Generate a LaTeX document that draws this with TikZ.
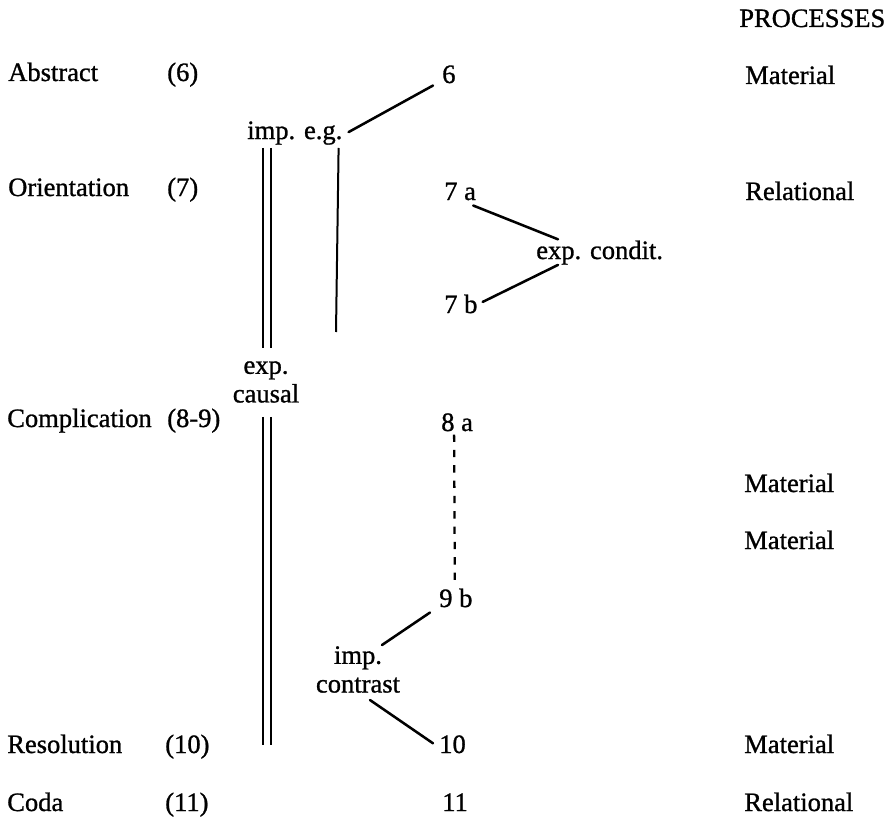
\documentclass[tikz,border=0pt]{standalone}
\usepackage{fontspec}
\setmainfont{Liberation Serif}[RawFeature={embolden=1.0}]
\usetikzlibrary{calc}
\begin{document}
\begin{tikzpicture}[x=0.75pt,y=-0.75pt,
  lbl/.style={inner sep=0pt, anchor=base west, font=\fontsize{19.9pt}{21pt}\selectfont},
  pair/.style={inner sep=0pt, anchor=north, align=center, font=\fontsize{19.9pt}{21.5pt}\selectfont},
  link/.style={line width=1.9pt, line cap=round},
  rule/.style={line width=1.5pt},
  chain/.style={line width=1.7pt, dash pattern=on 5.5pt off 6pt}]
\useasboundingbox (0,0) rectangle (889,817);

% column heading
\node[lbl] (hProc) at (739,27) {PROCESSES};

% stages, clause numbers and process types
\node[lbl] (sAbs) at (8,81) {Abstract};
\node[lbl] (cAbs) at (167,81) {(6)};
\node[lbl] (n6) at (442,83) {6};
\node[lbl] (pAbs) at (745,84) {Material};

\node[lbl] (sOri) at (8,196) {Orientation};
\node[lbl] (cOri) at (167,196) {(7)};
\node[lbl] (n7a) at (444,200) {7 a};
\node[lbl] (pOri) at (745,200) {Relational};
\node[lbl] (n7b) at (444,313) {7 b};

\node[lbl] (sCom) at (7,427) {Complication};
\node[lbl] (cCom) at (167,427) {(8-9)};
\node[lbl] (n8a) at (441,431) {8 a};
\node[lbl] (pComA) at (744,492) {Material};
\node[lbl] (pComB) at (744,549) {Material};
\node[lbl] (n9b) at (439,607) {9 b};

\node[lbl] (sRes) at (7,753) {Resolution};
\node[lbl] (cRes) at (165,753) {(10)};
\node[lbl] (n10) at (439,753) {10};
\node[lbl] (pRes) at (744,753) {Material};

\node[lbl] (sCod) at (7,811) {Coda};
\node[lbl] (cCod) at (165,811) {(11)};
\node[lbl] (n11) at (442,811) {11};
\node[lbl] (pCod) at (744,811) {Relational};

% relation labels
\node[lbl] (ieg) at (247,139) {imp. e.g.};
\node[lbl] (cond) at (536,259) {exp. condit.};
\node[pair] (ec) at (266,361) {exp.\\causal};
\node[pair] (ic) at (358,646) {imp.\\contrast};

% free ends of the long vertical rules
\coordinate (dblEnd) at (267,745);
\coordinate (sglEnd) at (336,332);

% exemplification: 6 -- 7
\draw[link] ($(ieg.east)+(6,-1)$) -- ($(n6.south west)+(-9,2)$);
\draw[rule] ($(ieg.south east)+(-4,3)$) -- (sglEnd);

% conditional: 7a -- 7b
\draw[link] ($(n7a.south east)+(-3,5)$) -- ($(cond.north west)+(22,-1)$);
\draw[link] ($(n7b.east)+(5,-2)$) -- ($(cond.south west)+(22,0)$);

% causal: 6-7 -- 8-10 (double rule)
\draw[rule] ($(ieg.south west)+(16,3)$) -- ($(ec.north)+(-3,-13)$);
\draw[rule] ($(ieg.south west)+(24,3)$) -- ($(ec.north)+(5,-13)$);
\draw[rule] ($(ec.south)+(-3,14)$) -- ($(dblEnd)+(-4,0)$);
\draw[rule] ($(ec.south)+(5,14)$) -- ($(dblEnd)+(4,0)$);

% 8a .. 9b
\draw[chain] ($(n8a.south)+(-3,3)$) -- ($(n9b.north)+(-1,-4)$);

% contrast: 9b -- 10
\draw[link] ($(n9b.south west)+(-9,5)$) -- ($(ic.north)+(24,-1)$);
\draw[link] ($(ic.south)+(12,7)$) -- ($(n10.west)+(-6,-1)$);
\end{tikzpicture}
\end{document}
